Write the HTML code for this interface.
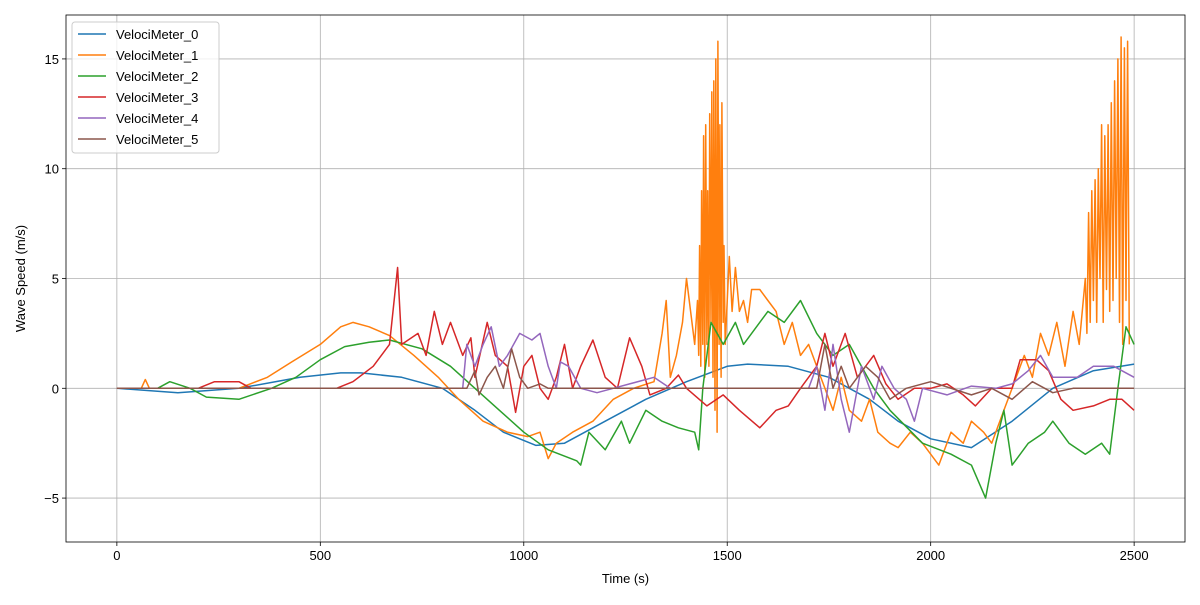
<!DOCTYPE html>
<html><head><meta charset="utf-8"><style>
body{margin:0;background:#fff;font-family:"Liberation Sans","DejaVu Sans",sans-serif}
svg text{font-family:"Liberation Sans","DejaVu Sans",sans-serif;font-size:13px;fill:#000}
</style></head><body>
<svg id="chart" width="1200" height="600" xmlns="http://www.w3.org/2000/svg"></svg>
<script>
const seriesNames=["VelociMeter_0","VelociMeter_1","VelociMeter_2","VelociMeter_3","VelociMeter_4","VelociMeter_5"];
const colors=["#1f77b4","#ff7f0e","#2ca02c","#d62728","#9467bd","#8c564b"];
const xTicks=[0,500,1000,1500,2000,2500];
const yTicks=[-5,0,5,10,15];
const s0x=[0,150,300,450,550,600,700,800,880,950,1030,1100,1200,1300,1400,1500,1550,1650,1750,1850,1920,2000,2100,2200,2300,2400,2500];
const s0y=[0,-0.2,0,0.5,0.7,0.7,0.5,0,-1,-2,-2.6,-2.5,-1.5,-0.5,0.3,1.0,1.1,1.0,0.5,-0.5,-1.5,-2.3,-2.7,-1.5,0,0.8,1.1];
const s1x=[0,60,70,80,300,370,430,500,550,580,620,670,730,790,840,900,960,1010,1040,1060,1080,1120,1170,1220,1270,1320,1340,1350,1360,1375,1390,1400,1410,1420,1427,
1430,1432,1435,1437,1440,1442,1445,1447,1450,1452,1455,1457,1460,1462,1465,1467,1470,1472,1475,1477,1480,1482,1485,1487,1490,1492,1495,
1505,1512,1520,1530,1540,1550,1560,1580,1600,1620,1640,1660,1680,1700,1720,1740,1760,1780,1800,1830,1850,1870,1900,1920,1950,1980,2020,2050,2080,2100,2130,2150,2180,2200,2230,2250,2270,2290,2310,2330,2350,2365,
2380,2384,2388,2392,2396,2400,2404,2408,2412,2416,2420,2424,2428,2432,2436,2440,2444,2448,2452,2456,2460,2464,2468,2472,2476,2480,2484,2488,2492,2496,2500];
const s1y=[0,0,0.4,0,0,0.5,1.2,2,2.8,3,2.8,2.4,1.5,0.5,-0.5,-1.5,-2,-2.2,-2,-3.2,-2.5,-2,-1.5,-0.5,0,0.3,2.5,4,0.5,1.5,3,5,3.5,2,4,
1.5,6.5,1,9,2,11.5,0.5,12,2,9,1,12.5,3,13.5,0.5,14,-1,15,-2,15.8,2,12,0.5,13,3,6.5,2,
6,3.5,5.5,3.5,4,3,4.5,4.5,4,3.5,2,3,1.5,2,1,0,-1,0.5,-1,-1.5,-0.5,-2,-2.5,-2.7,-2,-2.5,-3.5,-2,-2.5,-1.5,-2,-2.5,-1,0,1.5,0.5,2.5,1.5,3,
1,3.5,2,5,2.5,8,3,9,4,9.5,3,10,5,12,3,11.5,4.5,12,3.5,13,4,14,5,15,3,16,2,15.5,4,15.8,2];
const s2x=[0,100,130,180,220,300,380,440,500,560,620,670,750,820,880,940,1000,1060,1130,1140,1160,1200,1240,1260,1300,1340,1380,1420,1430,1440,1460,1490,1520,1540,1600,1640,1680,1720,1760,1800,1860,1900,1980,2050,2100,2135,2160,2180,2200,2240,2280,2300,2340,2380,2420,2440,2460,2480,2500];
const s2y=[0,0,0.3,0,-0.4,-0.5,0,0.5,1.3,1.9,2.1,2.2,1.8,1,0,-1,-2,-2.8,-3.3,-3.5,-2,-2.8,-1.5,-2.5,-1,-1.5,-1.8,-2,-2.8,0,3,2,3,2,3.5,3,4,2.5,1.5,2,0,-1,-2.5,-3,-3.5,-5,-2.5,-1,-3.5,-2.5,-2,-1.5,-2.5,-3,-2.5,-3,0,2.8,2];
const s3x=[0,200,240,300,330,540,580,630,670,690,700,740,760,780,800,820,850,870,880,910,930,960,980,1000,1020,1040,1060,1080,1100,1120,1140,1170,1200,1230,1260,1290,1310,1350,1380,1400,1450,1490,1530,1580,1620,1650,1680,1720,1740,1760,1790,1820,1860,1890,1920,1960,2000,2040,2080,2110,2150,2200,2220,2260,2290,2320,2350,2400,2440,2470,2500];
const s3y=[0,0,0.3,0.3,0,0,0.3,1,2,5.5,2,2.5,1.5,3.5,2,3,1.5,2.3,0.5,3,1.5,1,-1.1,1,1.5,0,-0.5,0.5,2,0,1,2.2,0.5,0,2.3,1,-0.3,0,0.6,0,-0.8,-0.3,-1,-1.8,-1,-0.8,0,1,2.5,1,2.5,0.5,1.5,0.2,-0.5,0,0,0.2,-0.3,-0.8,0,0,1.3,1.3,0.8,-0.5,-1,-0.8,-0.5,-0.5,-1];
const s4x=[0,850,860,880,900,920,940,960,990,1020,1040,1060,1080,1090,1110,1140,1180,1220,1260,1320,1360,1700,1720,1740,1760,1780,1800,1830,1860,1880,1910,1940,1960,1980,2040,2100,2160,2200,2240,2270,2300,2360,2400,2450,2500];
const s4y=[0,0,2,1,2,2.8,1,1.5,2.5,2.2,2.5,1,0,1.2,1,0,-0.2,0,0.2,0.5,0,0,1,-1,2,-0.5,-2,1,-0.5,1,0,-0.5,-1.5,0,-0.3,0.1,0,0.2,0.8,1.5,0.5,0.5,1,1,0.5];
const s5x=[0,860,880,890,910,930,950,970,990,1010,1040,1060,1720,1740,1760,1780,1800,1840,1870,1900,1940,2000,2100,2150,2200,2250,2300,2350,2500];
const s5y=[0,0,0.8,-0.3,0.5,1,0,1.8,0.5,0,0.2,0,0,2,0,1,0,1,0.5,-0.5,0,0.3,-0.3,0,-0.5,0.3,-0.2,0,0];
const allX=[s0x,s1x,s2x,s3x,s4x,s5x], allY=[s0y,s1y,s2y,s3y,s4y,s5y];

const L=66,R=1185,T=15,B=542;
const xMin=-125,xMax=2625,yMin=-7.0,yMax=17.0;
const sx=v=>L+(v-xMin)/(xMax-xMin)*(R-L);
const sy=v=>B-(v-yMin)/(yMax-yMin)*(B-T);
const svg=document.getElementById('chart');
const NS="http://www.w3.org/2000/svg";
function mk(t,a,p){const e=document.createElementNS(NS,t);for(const k in a)e.setAttribute(k,a[k]);(p||svg).appendChild(e);return e;}
xTicks.forEach(v=>{
 const g=mk('line',{x1:sx(v),x2:sx(v),y1:T,y2:B,stroke:'#b0b0b0','stroke-width':0.8});
 
 
 mk('line',{x1:sx(v),x2:sx(v),y1:B,y2:B+4,stroke:'#000','stroke-width':0.8});
 const t=mk('text',{x:sx(v),y:B+18,'text-anchor':'middle'});t.textContent=v;
 
 
});
yTicks.forEach(v=>{
 const g=mk('line',{x1:L,x2:R,y1:sy(v),y2:sy(v),stroke:'#b0b0b0','stroke-width':0.8});
 
 
 mk('line',{x1:L-4,x2:L,y1:sy(v),y2:sy(v),stroke:'#000','stroke-width':0.8});
 const t=mk('text',{x:L-7,y:sy(v)+5,'text-anchor':'end'});t.textContent=v<0?'\u2212'+Math.abs(v):v;
 
 
});
const clip=mk('clipPath',{id:'pc'});mk('rect',{x:L,y:T,width:R-L,height:B-T},clip);
allX.forEach((xs,i)=>{
 const d=xs.map((x,j)=>(j?'L':'M')+sx(x).toFixed(1)+','+sy(allY[i][j]).toFixed(1)).join('');
 const p=mk('path',{d:d,fill:'none',stroke:colors[i],'stroke-width':1.5,'clip-path':'url(#pc)','stroke-linejoin':'round'});
 
 
});
const fr=mk('rect',{x:L,y:T,width:R-L,height:B-T,fill:'none',stroke:'#000','stroke-width':0.8});


const xt=mk('text',{x:(L+R)/2,y:583,'text-anchor':'middle'});xt.textContent='Time (s)';


const yt=mk('text',{x:25,y:(T+B)/2,'text-anchor':'middle',transform:'rotate(-90 25 '+((T+B)/2)+')'});yt.textContent='Wave Speed (m/s)';


const lg=mk('g',{});


mk('rect',{x:72,y:22,width:147,height:131,rx:3,fill:'#fff','fill-opacity':0.8,stroke:'#ccc'},lg);
seriesNames.forEach((n,i)=>{
 const y=34+i*21;
 const e=mk('g',{},lg);
 
 
 mk('line',{x1:78,x2:106,y1:y,y2:y,stroke:colors[i],'stroke-width':1.5},e);
 const t=mk('text',{x:116,y:y+5},e);t.textContent=n;
});
</script>
</body></html>
